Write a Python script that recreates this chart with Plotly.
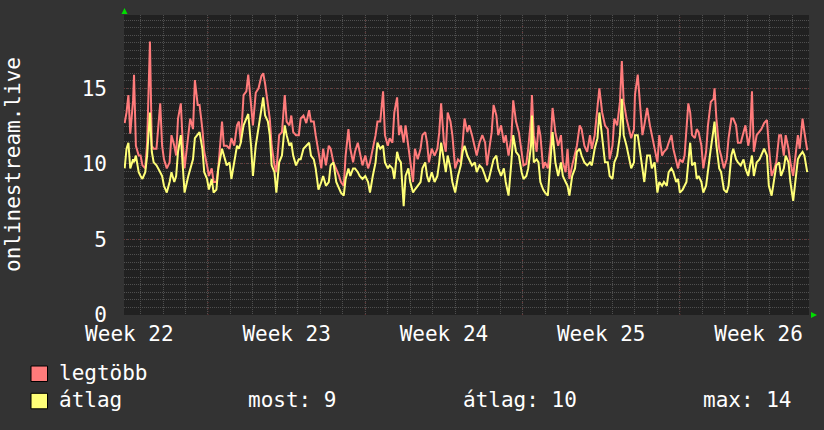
import plotly.graph_objects as go

# ---- data (hours relative to start of Week 23) ----
hours = [
    -89, -87, -85, -83, -80, -79, -77, -74, -72, -70,
    -67, -65, -62, -60, -58, -55, -51, -49, -47, -44,
    -41, -39, -36, -34, -32, -29, -27, -25, -21, -19,
    -16, -14, -11, -9, -6, -4, -1, 1, 4, 6,
    9, 11, 15, 17, 20, 23, 25, 28, 31, 33,
    35, 38, 41, 43, 46, 48,
    51, 54, 57, 59, 61, 64, 66, 68, 71, 73,
    76, 79, 82, 84, 87, 89, 91, 94, 97, 99,
    102, 105, 108, 110, 113, 115, 118, 121, 123, 126,
    129, 131, 134, 137, 140, 142, 145, 147, 150, 152,
    155, 157, 160, 162, 165, 168, 171, 173, 176, 179,
    181, 184, 187, 189, 192, 194,
    197, 199, 202, 204, 206, 209, 211, 214, 216, 219,
    221, 224, 227, 229, 232, 234, 236, 239, 242, 245,
    247, 249, 252, 254, 256, 259, 261, 264, 267, 270,
    272, 274, 277, 279, 282, 285, 287, 290, 293, 296,
    298, 300, 303, 305, 308, 310, 313, 316, 318, 321,
    324, 326, 329, 332, 335, 337, 340,
    342, 345, 346, 348, 351, 353, 355, 358, 360, 363,
    366, 368, 371, 374, 377, 379, 382, 384, 386, 389,
    392, 394, 397, 399, 402, 405, 408, 410, 413, 416,
    418, 421, 424, 427, 429, 432, 434, 437, 440, 442,
    444, 447, 449, 452, 455, 456, 459, 461, 464, 466,
    469, 472, 474, 477, 480, 482, 485,
    487, 490, 492, 495, 497, 500, 502, 504, 507, 509,
    511, 513, 515, 517, 520, 522, 524, 527, 529, 532,
    534, 537, 540, 541, 543, 546, 548, 551, 554, 556,
    559, 561, 564, 566, 569, 572, 574, 577, 579, 581,
    583, 586, 589, 591, 594, 597, 599, 602, 605, 607,
    610, 612, 615, 617, 620, 622, 625, 628, 630, 632,
    635, 637, 640,
]

legtobb = [
    12.7, 13.4, 14.55, 12.0, 14.2, 15.9, 11.2, 10.55, 10.55, 9.9,
    9.7, 11.4, 18.1, 11.2, 11.0, 11.0, 14.0, 11.2, 10.3, 9.7,
    10.1, 11.9, 11.2, 10.55, 13.0, 14.0, 11.4, 9.7, 11.9, 13.0,
    12.3, 15.55, 13.9, 13.9, 12.3, 10.8, 9.9, 9.2, 9.7, 8.8,
    8.8, 9.7, 12.8, 11.2, 11.2, 11.0, 11.7, 11.2, 12.55, 12.8,
    11.4, 14.55, 14.8, 15.9, 13.9, 12.55,
    14.7, 15.0, 15.8, 16.0, 15.3, 13.7, 13.0, 11.2, 9.9, 9.45,
    11.9, 12.1, 14.55, 12.8, 12.55, 13.2, 12.1, 11.9, 11.9, 13.0,
    13.2, 12.7, 13.55, 12.8, 12.8, 11.9, 10.8, 9.7, 11.0, 9.9,
    11.2, 11.0, 10.1, 9.7, 9.2, 8.8, 8.55, 10.55, 12.3, 11.0,
    10.1, 10.8, 11.4, 10.8, 9.9, 10.55, 9.7, 10.1, 11.0, 11.9,
    12.8, 12.8, 14.8, 11.9, 11.2, 11.7,
    11.4, 13.4, 14.4, 11.9, 12.55, 11.4, 12.55, 11.2, 10.1, 8.8,
    11.0, 10.3, 11.0, 11.9, 12.1, 11.4, 10.1, 11.0, 10.55, 11.0,
    12.1, 14.0, 11.4, 10.8, 13.4, 12.8, 11.9, 9.7, 10.3, 10.1,
    11.4, 13.0, 12.1, 12.55, 11.9, 11.2, 10.55, 11.4, 11.9, 11.4,
    9.9, 10.8, 12.1, 13.9, 13.2, 11.9, 12.55, 11.4, 11.9, 10.55,
    11.7, 14.2, 12.8, 12.1, 10.55, 9.9, 10.0,
    11.0, 13.0, 14.55, 11.9, 10.8, 12.55, 11.9, 9.7, 10.1, 9.7,
    11.4, 13.7, 12.1, 11.2, 11.9, 10.1, 9.45, 11.0, 9.0, 9.9,
    10.8, 11.2, 12.55, 12.3, 11.2, 10.8, 11.9, 11.0, 11.9, 14.1,
    15.0, 13.4, 12.55, 12.3, 10.3, 11.2, 13.0, 12.55, 14.1, 16.8,
    14.1, 13.0, 12.55, 11.7, 12.3, 14.55, 15.9, 14.1, 11.9, 12.55,
    13.7, 12.55, 11.9, 11.0, 10.1, 11.9, 10.55,
    10.8, 11.0, 11.4, 11.9, 11.0, 10.3, 9.7, 10.3, 10.1, 10.55,
    12.3, 14.0, 13.4, 11.9, 11.7, 12.3, 12.1, 11.2, 9.7, 10.8,
    12.55, 14.1, 14.3, 15.0, 13.0, 11.0, 10.55, 9.7, 10.3, 11.7,
    13.0, 13.0, 12.55, 11.4, 11.4, 12.1, 12.55, 11.2, 11.9, 14.8,
    10.8, 11.9, 12.1, 12.3, 12.7, 12.9, 11.2, 9.2, 9.7, 10.1,
    11.9, 11.9, 10.55, 11.9, 11.0, 10.1, 9.2, 10.8, 11.9, 11.0,
    13.0, 12.1, 10.9,
]

atlag = [
    9.7, 11.0, 11.4, 9.7, 10.3, 10.1, 10.55, 9.45, 9.2, 9.0,
    9.45, 10.55, 13.4, 10.8, 10.1, 9.9, 9.45, 9.2, 8.55, 8.1,
    8.8, 9.45, 8.8, 9.2, 10.8, 11.9, 9.9, 8.1, 9.2, 9.7,
    10.3, 11.7, 11.9, 12.1, 11.0, 9.45, 9.0, 8.3, 9.0, 8.1,
    8.3, 9.7, 11.0, 10.55, 9.9, 10.1, 9.0, 10.1, 11.2, 11.0,
    11.4, 12.55, 13.0, 13.3, 11.2, 9.2,
    11.2, 12.3, 13.4, 14.4, 13.2, 12.8, 11.9, 9.9, 9.45, 8.1,
    10.1, 10.55, 12.55, 11.9, 11.2, 11.4, 10.55, 9.9, 10.3, 10.3,
    11.0, 11.2, 11.4, 10.55, 10.3, 9.7, 8.3, 8.8, 9.2, 8.55,
    8.8, 9.9, 10.1, 8.8, 8.3, 8.1, 7.9, 9.0, 9.7, 9.2,
    9.7, 9.7, 9.45, 9.2, 9.0, 9.2, 8.8, 8.1, 9.2, 10.1,
    11.4, 11.0, 11.2, 10.1, 9.7, 9.9,
    9.7, 9.0, 10.8, 10.3, 10.1, 7.2, 9.2, 9.7, 8.8, 8.1,
    8.3, 8.55, 8.8, 9.7, 10.1, 9.2, 8.8, 9.45, 8.8, 9.2,
    10.1, 11.4, 10.1, 9.45, 10.55, 9.7, 8.8, 8.1, 9.2, 9.9,
    10.8, 11.2, 10.55, 10.3, 9.9, 10.1, 9.45, 9.9, 9.7, 9.2,
    8.8, 9.0, 9.7, 10.3, 10.55, 9.7, 9.2, 9.7, 8.8, 7.9,
    10.1, 11.9, 10.8, 10.55, 9.45, 9.0, 9.2,
    9.7, 11.2, 13.2, 10.1, 10.3, 10.1, 8.8, 8.3, 8.1, 7.9,
    10.8, 12.1, 10.1, 9.2, 10.1, 9.2, 8.8, 8.55, 7.9, 9.2,
    9.7, 10.8, 11.0, 10.55, 10.1, 9.9, 10.1, 9.9, 11.0, 11.7,
    13.4, 11.9, 10.1, 10.1, 9.2, 9.0, 10.1, 10.55, 11.9, 14.3,
    11.9, 11.2, 10.55, 9.7, 10.1, 11.9, 11.9, 11.0, 9.45, 8.8,
    10.55, 10.55, 9.7, 10.1, 8.1, 8.8, 8.55,
    8.8, 8.55, 9.45, 9.7, 9.45, 8.8, 9.0, 8.1, 8.3, 8.55,
    8.8, 10.1, 11.4, 9.9, 10.1, 9.0, 9.2, 8.8, 8.1, 8.55,
    9.7, 11.0, 12.3, 12.8, 11.2, 9.7, 9.45, 8.3, 8.1, 8.55,
    10.55, 11.0, 10.3, 10.1, 9.9, 10.3, 9.7, 9.2, 9.9, 10.55,
    9.2, 10.1, 10.3, 10.55, 11.0, 10.55, 8.55, 7.9, 9.2, 9.9,
    10.1, 9.2, 9.7, 10.55, 10.1, 8.8, 7.55, 9.2, 10.3, 10.55,
    10.8, 10.55, 9.45,
]

x_range = [-89.7, 641.9]
y_range = [0, 19.85]
week_label_pos = [-84, 84, 252, 420, 588]
week_labels = ["Week 22", "Week 23", "Week 24", "Week 25", "Week 26"]
week_starts = [0, 168, 336, 504]
y_ticks = [0, 5, 10, 15]

series_names = ["legtöbb", "átlag"]
stats_labels = ["most: 9", "átlag: 10", "max: 14"]

RED = "#ff7b7b"
YEL = "#ffff77"
BG = "#333333"
PLOT_BG = "#212121"
GRID = "#4f4f4f"
MAJOR = "#6e3434"
FONT = "DejaVu Sans Mono"

fig = go.Figure()
fig.add_trace(go.Scatter(x=hours, y=legtobb, mode="lines", name=series_names[0],
                         line=dict(color=RED, width=2), showlegend=False))
fig.add_trace(go.Scatter(x=hours, y=atlag, mode="lines", name=series_names[1],
                         line=dict(color=YEL, width=2), showlegend=False))

shapes = []
for w in week_starts:
    shapes.append(dict(type="line", xref="x", yref="paper", x0=w, x1=w, y0=0, y1=1,
                       line=dict(color=MAJOR, width=1, dash="1px,2px"), layer="below"))

W, H = 824, 430
L, R, T, B = 124, 15, 15, 115
pw, ph = W - L - R, H - T - B


def px(xp):
    return (xp - L) / pw


def py(yp):
    return (H - B - yp) / ph


# green arrows
shapes.append(dict(type="path", xref="paper", yref="paper",
                   path=f"M {px(121.5)},{py(14)} L {px(127.5)},{py(14)} L {px(124.5)},{py(8)} Z",
                   fillcolor="#00dd00", line=dict(width=0)))
shapes.append(dict(type="path", xref="paper", yref="paper",
                   path=f"M {px(811)},{py(312)} L {px(811)},{py(318)} L {px(817)},{py(315)} Z",
                   fillcolor="#00dd00", line=dict(width=0)))

# legend squares
for i, c in enumerate([RED, YEL]):
    y0 = 366 + i * 27.3
    shapes.append(dict(type="rect", xref="paper", yref="paper",
                       x0=px(31), x1=px(47.5), y0=py(y0 + 15.5), y1=py(y0),
                       fillcolor=c, line=dict(color="#000000", width=1)))

annotations = [
    dict(text="onlinestream.live", xref="paper", yref="paper", x=px(13), y=py(164),
         textangle=-90, showarrow=False, font=dict(family=FONT, size=21, color="#ffffff"),
         xanchor="center", yanchor="middle"),
    dict(text=series_names[0], xref="paper", yref="paper", x=px(57), y=py(373),
         showarrow=False, font=dict(family=FONT, size=21, color="#ffffff"),
         xanchor="left", yanchor="middle"),
    dict(text=series_names[1], xref="paper", yref="paper", x=px(57), y=py(400),
         showarrow=False, font=dict(family=FONT, size=21, color="#ffffff"),
         xanchor="left", yanchor="middle"),
]
for xs, t in zip([246, 461, 701], stats_labels):
    annotations.append(dict(text=t, xref="paper", yref="paper", x=px(xs), y=py(400),
                            showarrow=False, font=dict(family=FONT, size=21, color="#ffffff"),
                            xanchor="left", yanchor="middle"))

fig.update_layout(
    width=W, height=H,
    margin=dict(l=L, r=R, t=T, b=B, pad=0),
    paper_bgcolor=BG, plot_bgcolor=PLOT_BG,
    font=dict(family=FONT, size=21, color="#ffffff"),
    shapes=shapes, annotations=annotations,
    showlegend=False,
    xaxis=dict(range=x_range, tickmode="array", tickvals=week_label_pos, ticktext=week_labels,
               showgrid=False, zeroline=False, showline=False, ticks="",
               ticklabelstandoff=4,
               minor=dict(tickmode="linear", tick0=0, dtick=24, showgrid=True,
                          gridcolor=GRID, griddash="1px,1px", gridwidth=1, ticks=""),
               fixedrange=True),
    yaxis=dict(range=y_range, tickmode="array", tickvals=y_ticks,
               ticktext=[str(v) for v in y_ticks],
               showgrid=True, gridcolor=MAJOR, griddash="1px,2px", gridwidth=1,
               zeroline=False, showline=False, ticks="", ticklabelstandoff=16,
               minor=dict(tickmode="linear", tick0=0, dtick=0.5, showgrid=True,
                          gridcolor=GRID, griddash="1px,1px", gridwidth=1, ticks=""),
               fixedrange=True),
)

fig.write_html("out.html")
